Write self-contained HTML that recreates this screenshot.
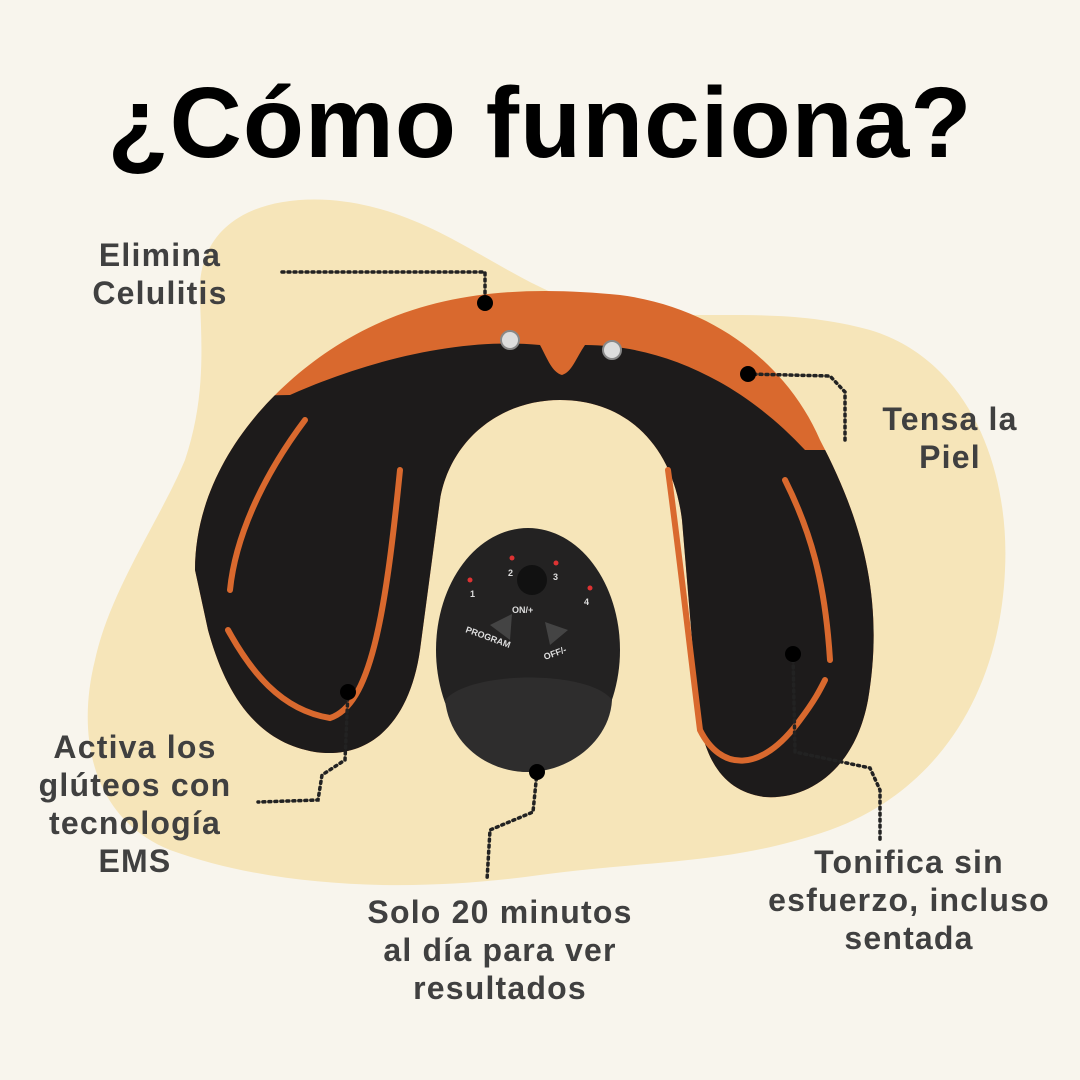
<!DOCTYPE html>
<html><head><meta charset="utf-8"><style>
html,body{margin:0;padding:0;background:#f8f5ed;}
#c{position:relative;width:1080px;height:1080px;overflow:hidden;font-family:"Liberation Sans",sans-serif;}
.t{position:absolute;left:0;width:1080px;text-align:center;top:66px;font-size:100px;font-weight:bold;color:#000;letter-spacing:1px;}
.l{position:absolute;font-weight:bold;color:#404040;font-size:32px;line-height:38px;text-align:center;letter-spacing:1.2px;}
</style></head><body><div id="c">
<svg width="1080" height="1080" style="position:absolute;left:0;top:0">
<path d="M200,300 C195,225 255,195 330,200 C430,208 490,270 570,300 C680,330 760,300 870,330 C970,360 1010,470 1005,570 C1000,690 940,790 830,830 C730,865 650,860 540,875 C420,892 280,890 170,850 C95,820 75,740 95,660 C110,590 160,520 185,460 C205,400 202,350 200,300 Z" fill="#f6e5b9"/>
<defs><clipPath id="u"><path d="M195,570 C195,480 255,400 330,350 C420,290 520,285 620,295 C720,308 790,370 820,440 C862,520 885,600 868,700 C855,770 808,800 765,797 C725,792 702,762 697,700 L682,520 C672,440 622,400 560,400 C500,400 450,440 440,500 L420,650 C410,720 372,760 315,752 C255,742 225,692 208,630 Z"/></clipPath></defs>
<g clip-path="url(#u)">
<rect x="0" y="0" width="1080" height="1080" fill="#d9692e"/>
<path d="M0,1080 L0,400 L290,395 C380,355 470,338 540,345 C548,360 552,372 562,375 C572,372 576,358 585,345 C660,345 740,380 805,450 L1080,450 L1080,1080 Z" fill="#1d1b1b"/>
</g>
<g fill="none" stroke="#d9692e" stroke-width="6" stroke-linecap="round">
<path d="M305,420 C260,480 235,540 230,590"/>
<path d="M228,630 C250,670 280,710 330,718 C370,705 385,620 400,470"/>
<path d="M668,470 C680,560 690,650 700,730 C720,770 760,775 800,720 C815,700 820,690 825,680"/>
<path d="M785,480 C810,530 825,580 830,660"/>
</g>
<circle cx="510" cy="340" r="9" fill="#ddd" stroke="#888" stroke-width="2"/>
<circle cx="612" cy="350" r="9" fill="#ddd" stroke="#888" stroke-width="2"/>
<ellipse cx="528" cy="650" rx="92" ry="122" fill="#232222"/>
<path d="M445,700 C470,670 590,670 612,700 C610,740 570,772 528,772 C488,772 450,745 445,700 Z" fill="#2e2d2d"/>
<circle cx="532" cy="580" r="15" fill="#111"/>
<path d="M490,625 L512,614 L510,640 Z" fill="#444"/>
<path d="M545,622 L568,630 L550,645 Z" fill="#444"/>
<g fill="#d33"><circle cx="470" cy="580" r="2.5"/><circle cx="512" cy="558" r="2.5"/><circle cx="556" cy="563" r="2.5"/><circle cx="590" cy="588" r="2.5"/></g>
<g font-size="9" fill="#ddd" font-weight="bold"><text x="470" y="597">1</text><text x="508" y="576">2</text><text x="553" y="580">3</text><text x="584" y="605">4</text><text x="512" y="613">ON/+</text><text x="465" y="632" transform="rotate(20 465 632)">PROGRAM</text><text x="545" y="660" transform="rotate(-20 545 660)">OFF/-</text></g>
<g fill="none" stroke="#222" stroke-width="3.5" stroke-dasharray="2 4" stroke-linecap="round">
<path d="M282,272 L485,272 L485,303"/>
<path d="M748,374 L830,376 L845,392 L845,440"/>
<path d="M348,692 L345,760 L322,775 L318,800 L258,802"/>
<path d="M537,772 L533,812 L490,830 L487,880"/>
<path d="M793,654 L795,752 L870,768 L880,790 L880,842"/>
</g>
<g fill="#000"><circle cx="485" cy="303" r="8"/><circle cx="748" cy="374" r="8"/><circle cx="348" cy="692" r="8"/><circle cx="537" cy="772" r="8"/><circle cx="793" cy="654" r="8"/></g>
</svg>
<div class="t">¿Cómo funciona?</div>
<div class="l" style="left:60px;top:236px;width:200px;">Elimina<br>Celulitis</div>
<div class="l" style="left:850px;top:400px;width:200px;">Tensa la<br>Piel</div>
<div class="l" style="left:10px;top:728px;width:250px;">Activa los<br>glúteos con<br>tecnología<br>EMS</div>
<div class="l" style="left:330px;top:893px;width:340px;">Solo 20 minutos<br>al día para ver<br>resultados</div>
<div class="l" style="left:740px;top:843px;width:338px;">Tonifica sin<br>esfuerzo, incluso<br>sentada</div>
</div></body></html>
